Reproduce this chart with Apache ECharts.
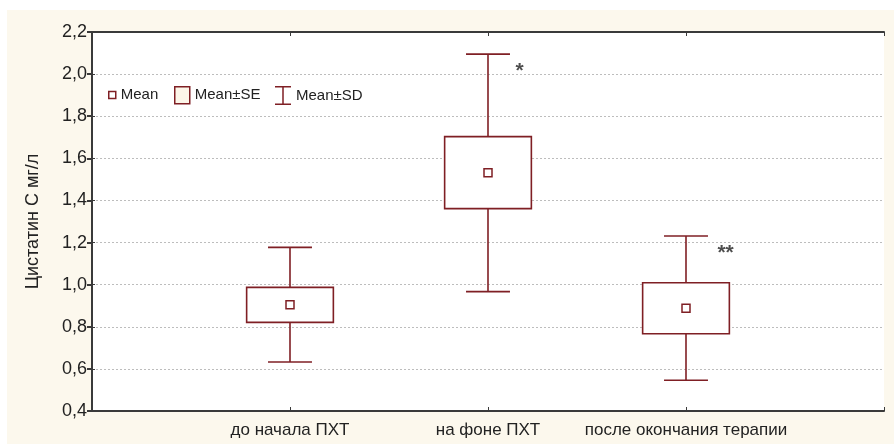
<!DOCTYPE html>
<html>
<head>
<meta charset="utf-8">
<script src="https://cdn.jsdelivr.net/npm/echarts@6/dist/echarts.min.js"></script>
<style>
html,body{margin:0;padding:0;background:#fff;}
#main{position:absolute;left:7px;top:10px;width:887px;height:434px;}
</style>
</head>
<body>
<div id="main"></div>
<script>
// data
var categories = ['до начала ПХТ', 'на фоне ПХТ', 'после окончания терапии'];
var means  = [0.905, 1.532, 0.888];
var seLow  = [0.821, 1.361, 0.767];
var seHigh = [0.987, 1.703, 1.009];
var sdLow  = [0.633, 0.967, 0.546];
var sdHigh = [1.177, 2.095, 1.231];
// significance marks
var marks = ['*', '**'];
var markX = [2.16, 3.2];
var markY = [2.015, 1.15];

var red = '#7f1f24';
var font = "Arial, 'Liberation Sans', sans-serif";

var chart = echarts.init(document.getElementById('main'));

var sdData = [], seData = [], meanData = [], markData = [];
for (var i = 0; i < categories.length; i++) {
  sdData.push([i + 1, sdLow[i], sdHigh[i]]);
  seData.push([i + 1, seLow[i], seHigh[i]]);
  meanData.push([i + 1, means[i]]);
}
for (var j = 0; j < marks.length; j++) {
  markData.push([markX[j], markY[j], marks[j]]);
}

function commaFmt(v) {
  return v.toFixed(1).replace('.', ',');
}

var legendText = {fontFamily: font, fontSize: 15, color: '#222', lineHeight: 18};

var option = {
  backgroundColor: '#fcf8ed',
  animation: false,
  grid: {
    left: 85, right: 10, top: 22, bottom: 33,
    show: true, backgroundColor: '#fff', borderWidth: 0
  },
  legend: [
    {
      data: [{name: 'Mean', icon: 'rect', itemStyle: {color: '#fff', borderColor: red, borderWidth: 1.5}}],
      left: 101, top: 76, padding: 0, itemWidth: 7, itemHeight: 7, selectedMode: false,
      textStyle: legendText
    },
    {
      data: [{name: 'Mean±SE', icon: 'rect', itemStyle: {color: '#fcf6e9', borderColor: red, borderWidth: 1.5}}],
      left: 167, top: 76, padding: 0, itemWidth: 15, itemHeight: 17, selectedMode: false,
      textStyle: legendText
    },
    {
      data: [{name: 'Mean±SD', icon: 'path://M0,0H16V1.5H8.75V17.5H16V19H0V17.5H7.25V1.5H0Z', itemStyle: {color: red, borderWidth: 0}}],
      left: 268, top: 76, padding: 0, itemWidth: 16, itemHeight: 19, selectedMode: false,
      textStyle: legendText
    }
  ],
  xAxis: [
    {
      type: 'value', min: 0, max: 4, interval: 1, position: 'bottom',
      axisLine: {lineStyle: {color: '#3a3a3a', width: 2}},
      axisTick: {inside: true, length: 4, lineStyle: {color: '#3a3a3a'}},
      splitLine: {show: false},
      axisLabel: {
        margin: 11, fontFamily: font, fontSize: 17, color: '#222',
        formatter: function (v) { return categories[v - 1] || ''; }
      }
    },
    {
      type: 'value', min: 0, max: 4, interval: 1, position: 'top',
      axisLine: {lineStyle: {color: '#3a3a3a', width: 2}},
      axisTick: {inside: true, length: 4, lineStyle: {color: '#3a3a3a'}},
      splitLine: {show: false}, axisLabel: {show: false}
    }
  ],
  yAxis: [
    {
      type: 'value', min: 0.4, max: 2.2, interval: 0.2, position: 'left',
      name: 'Цистатин С мг/л', nameLocation: 'middle', nameGap: 50,
      nameTextStyle: {fontFamily: font, fontSize: 18, color: '#222'},
      axisLine: {show: true, lineStyle: {color: '#3a3a3a', width: 2}},
      axisTick: {show: true, inside: true, length: 3, lineStyle: {color: '#3a3a3a'}},
      splitLine: {show: true, lineStyle: {color: '#bdbdbd', type: [2, 2], width: 1}},
      axisLabel: {margin: 5, fontFamily: font, fontSize: 18, color: '#222', formatter: commaFmt}
    },
    {
      type: 'value', min: 0.4, max: 2.2, interval: 0.2, position: 'right',
      axisLine: {show: true, lineStyle: {color: '#3a3a3a', width: 2}},
      axisTick: {show: true, inside: true, length: 5, lineStyle: {color: '#3a3a3a', width: 2}},
      splitLine: {show: false}, axisLabel: {show: false}
    }
  ],
  series: [
    {
      name: 'Mean±SD',
      type: 'custom',
      itemStyle: {color: red},
      data: sdData,
      renderItem: function (params, api) {
        var x = api.value(0);
        var top = api.coord([x, api.value(2)]);
        var bot = api.coord([x, api.value(1)]);
        var half = api.size([0.111, 0])[0];
        var st = {stroke: red, lineWidth: 1.6};
        return {
          type: 'group',
          children: [
            {type: 'line', shape: {x1: top[0], y1: top[1], x2: bot[0], y2: bot[1]}, style: st},
            {type: 'line', shape: {x1: top[0] - half, y1: top[1], x2: top[0] + half, y2: top[1]}, style: st},
            {type: 'line', shape: {x1: bot[0] - half, y1: bot[1], x2: bot[0] + half, y2: bot[1]}, style: st}
          ]
        };
      }
    },
    {
      name: 'Mean±SE',
      type: 'custom',
      itemStyle: {color: '#fff', borderColor: red},
      data: seData,
      renderItem: function (params, api) {
        var x = api.value(0);
        var top = api.coord([x, api.value(2)]);
        var bot = api.coord([x, api.value(1)]);
        var half = api.size([0.219, 0])[0];
        return {
          type: 'rect',
          shape: {x: top[0] - half, y: top[1], width: half * 2, height: bot[1] - top[1]},
          style: {fill: '#fff', stroke: red, lineWidth: 1.6}
        };
      }
    },
    {
      name: 'Mean',
      type: 'scatter',
      symbol: 'rect',
      symbolSize: 8,
      itemStyle: {color: '#fff', borderColor: red, borderWidth: 1.5, opacity: 1},
      data: meanData
    },
    {
      name: 'marks',
      type: 'scatter',
      symbolSize: 0,
      data: markData,
      label: {
        show: true, position: 'inside',
        fontFamily: font, fontSize: 21, fontWeight: 'bold', color: '#222',
        formatter: function (p) { return p.value[2]; }
      }
    }
  ]
};

chart.setOption(option);
</script>
</body>
</html>
